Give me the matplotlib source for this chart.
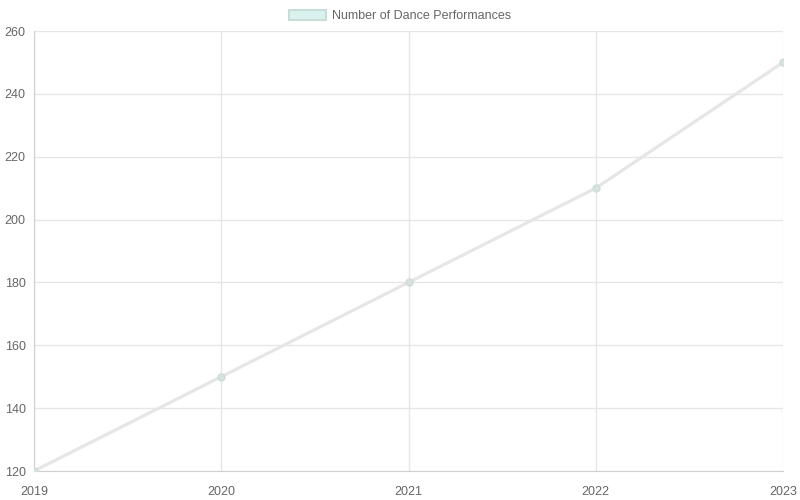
import matplotlib.pyplot as plt
from matplotlib.patches import Patch

years = ['2019', '2020', '2021', '2022', '2023']
performances = [120, 150, 180, 210, 250]
series_label = 'Number of Dance Performances'

plt.rcParams['font.family'] = ['Liberation Sans', 'DejaVu Sans']

fig = plt.figure(figsize=(8, 5), dpi=100)
ax = fig.add_axes([34 / 800, 1 - 471 / 500, (783 - 34) / 800, (471 - 31) / 500])

x = list(range(len(years)))
ax.plot(x, performances, color='#e6e6e6', linewidth=2.3, zorder=3,
        marker='o', markersize=5, markerfacecolor='#d5e4e1',
        markeredgecolor='#d0dcd9', markeredgewidth=1)

ax.set_xlim(0, len(years) - 1)
ax.set_ylim(120, 260)
ax.set_xticks(x)
ax.set_xticklabels(years)
ax.set_yticks(range(120, 261, 20))

ax.grid(True, color='#e6e6e6', linewidth=1)
ax.set_axisbelow(True)
for side in ['top', 'right']:
    ax.spines[side].set_visible(False)
for side in ['left', 'bottom']:
    ax.spines[side].set_color('#d0d0d0')
ax.tick_params(colors='#666666', labelsize=9, length=0)
ax.tick_params(axis='x', pad=11)
ax.tick_params(axis='y', pad=6)

handle = Patch(facecolor='#d9f2ee', edgecolor='#c8dcd8', linewidth=1.5)
fig.legend([handle], [series_label], loc='center', bbox_to_anchor=(0.5, 1 - 16 / 500),
           frameon=False, fontsize=9, labelcolor='#666666',
           handlelength=3.0, handleheight=0.9, handletextpad=0.5)

fig.savefig('out.png', dpi=100)
